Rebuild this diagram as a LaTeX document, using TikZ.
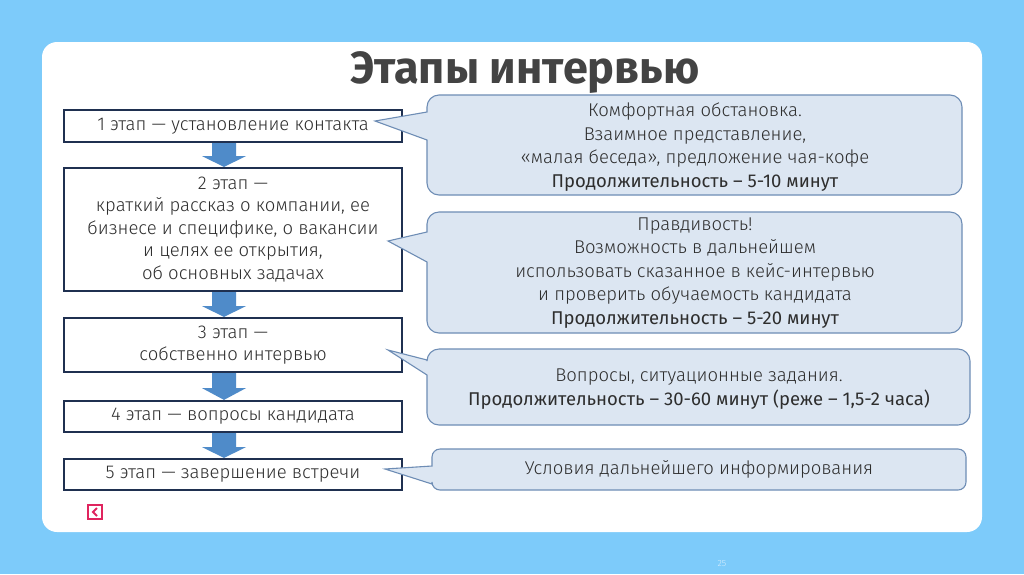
\documentclass[tikz,border=0pt]{standalone}
\usepackage{fontspec}
\setmainfont{Fira Sans}[UprightFont=* Light, BoldFont=*]
\newfontfamily\titlefont{Fira Sans}[UprightFont=* Bold]
\usetikzlibrary{calc}
\definecolor{bgblue}{HTML}{7DCBFA}
\definecolor{navy}{HTML}{1F3050}
\definecolor{arrblue}{HTML}{4F8BC9}
\definecolor{calfill}{HTML}{DCE6F2}
\definecolor{caldraw}{HTML}{6E8DB5}
\definecolor{txt}{HTML}{2E2E2E}
\definecolor{iconred}{HTML}{E0245E}
\tikzset{
  stagebox/.style={draw=navy, line width=2.2pt, fill=white, minimum width=338pt, inner sep=0pt, align=center, text=txt, font=\fontsize{18.5}{22.5}\selectfont},
  calltext/.style={align=center, text=txt, font=\fontsize{18.5}{23.5}\selectfont},
  callout/.style={fill=calfill, draw=caldraw, line width=1.1pt},
  blockarr/.style={fill=arrblue, draw=none}
}
\newcommand{\blockarrow}[3]{%
  \fill[blockarr] ($(#1.south)+(-21,0)$) -- ($(#1.south)+(-21,#3)$) -- ($(#1.south)+(-31,#3)$) -- ($(#2.north)+(-9,0)$) -- ($(#1.south)+(13,#3)$) -- ($(#1.south)+(3,#3)$) -- ($(#1.south)+(3,0)$) -- cycle;}
\begin{document}
\begin{tikzpicture}[x=1pt,y=-1pt]
\useasboundingbox (0,0) rectangle (1024,574);
\fill[bgblue] (0,0) rectangle (1024,574);
\fill[white, rounded corners=15pt] (42,42) rectangle (982,532);
\node[font=\titlefont\fontsize{45}{48}\selectfont, text=txt!90!white] (title) at (525,73) {Этапы интервью};
% stage boxes
\node[stagebox, minimum height=32pt] (b1) at (233,126) {1 этап — установление контакта};
\node[stagebox, minimum height=123pt] (b2) at (233,229.5) {2 этап —\\краткий рассказ о компании, ее\\бизнесе и специфике, о вакансии\\и целях ее открытия,\\об основных задачах};
\node[stagebox, minimum height=54pt] (b3) at (233,345) {3 этап —\\собственно интервью};
\node[stagebox, minimum height=31pt] (b4) at (233,416.5) {4 этап — вопросы кандидата};
\node[stagebox, minimum height=31pt] (b5) at (233,474.5) {5 этап — завершение встречи};
% arrows
\blockarrow{b1}{b2}{13}
\blockarrow{b2}{b3}{14}
\blockarrow{b3}{b4}{15}
\blockarrow{b4}{b5}{14}
% callouts
\draw[callout, rounded corners=12pt] (427,140) -- (427,195) -- (962,195) -- (962,95) -- (427,95) [sharp corners] -- (427,112) -- (375,121) -- cycle;
\draw[callout, rounded corners=12pt] (427,262) -- (427,333) -- (962,333) -- (962,212) -- (427,212) [sharp corners] -- (427,232) -- (388,241) -- cycle;
\draw[callout, rounded corners=12pt] (427,375) -- (427,425) -- (970,425) -- (970,349) -- (427,349) [sharp corners] -- (427,360) -- (388,350) -- cycle;
\draw[callout, rounded corners=8pt] (432,484) -- (432,490) -- (966,490) -- (966,449) -- (432,449) [sharp corners] -- (432,466) -- (385,469) -- cycle;
\node[calltext] (t1) at (695,147) {Комфортная обстановка.\\Взаимное представление,\\«малая беседа», предложение чая-кофе\\{\bfseries Продолжительность – 5-10 минут}};
\node[calltext] (t2) at (695,273) {Правдивость!\\Возможность в дальнейшем\\использовать сказанное в кейс-интервью\\и проверить обучаемость кандидата\\{\bfseries Продолжительность – 5-20 минут}};
\node[calltext] (t3) at (699,389) {Вопросы, ситуационные задания.\\{\bfseries Продолжительность – 30-60 минут (реже – 1,5-2 часа)}};
\node[calltext] (t4) at (699,469) {Условия дальнейшего информирования};
% icon
\node[draw=iconred, line width=1.8pt, minimum size=14pt, inner sep=0pt] (icon) at (95,512) {};
\draw[iconred, line width=2pt] ($(icon.center)+(2,-4)$) -- ($(icon.center)+(-2,0)$) -- ($(icon.center)+(2,4)$);
\node[font=\fontsize{9}{10}\selectfont, text=white!70!bgblue] (pg) at (722,563) {25};
\end{tikzpicture}
\end{document}
